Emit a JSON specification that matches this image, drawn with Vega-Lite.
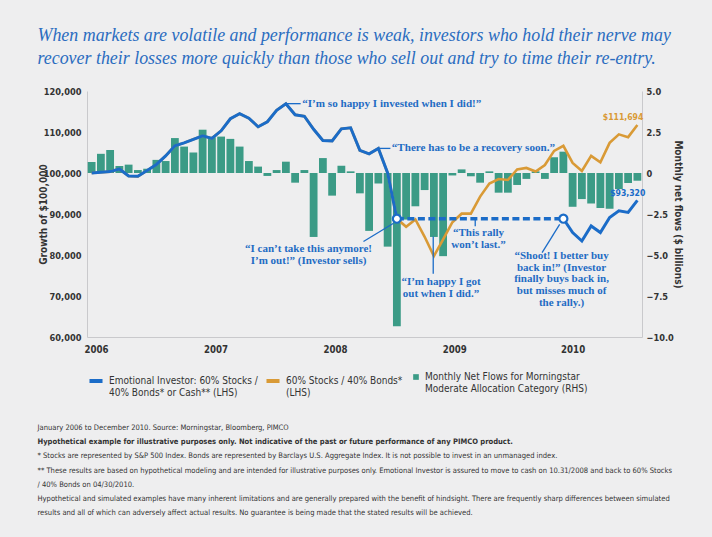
{
  "$schema": "https://vega.github.io/schema/vega-lite/v6.json",
  "background": "#eeeeef",
  "padding": {"left": 37, "top": 27, "right": 30, "bottom": 22},
  "title": {
    "text": ["When markets are volatile and performance is weak, investors who hold their nerve may", "recover their losses more quickly than those who sell out and try to time their re-entry."],
    "anchor": "start", "frame": "bounds", "font": "Liberation Serif", "fontStyle": "italic", "fontSize": 17.9, "fontWeight": "normal", "color": "#2a6cbf", "lineHeight": 23, "offset": 19, "dx": 0
  },
  "config": {
    "view": {"stroke": null},
    "font": "DejaVu Sans Condensed, Liberation Sans",
    "axis": {"grid": false, "ticks": false, "domainColor": "#c9c9cc", "labelFont": "DejaVu Sans Condensed, Liberation Sans", "labelFontWeight": "bold", "labelFontSize": 9.2, "labelColor": "#333333", "titleFont": "DejaVu Sans Condensed, Liberation Sans", "titleFontSize": 10, "titleFontWeight": "bold", "titleColor": "#333333"},
    "legend": {"orient": "bottom", "direction": "horizontal", "title": null, "labelFont": "DejaVu Sans Condensed, Liberation Sans", "labelFontSize": 10, "labelColor": "#333333", "labelLimit": 300}
  },
  "datasets": {
    "flows": [
      {"m": 0, "date": "2006-01", "flows": 0.67}, {"m": 1, "date": "2006-02", "flows": 1.17}, {"m": 2, "date": "2006-03", "flows": 1.41}, {"m": 3, "date": "2006-04", "flows": 0.43},
      {"m": 4, "date": "2006-05", "flows": 0.51}, {"m": 5, "date": "2006-06", "flows": 0.18}, {"m": 6, "date": "2006-07", "flows": 0.26}, {"m": 7, "date": "2006-08", "flows": 0.8},
      {"m": 8, "date": "2006-09", "flows": 0.73}, {"m": 9, "date": "2006-10", "flows": 2.13}, {"m": 10, "date": "2006-11", "flows": 1.61}, {"m": 11, "date": "2006-12", "flows": 1.25},
      {"m": 12, "date": "2007-01", "flows": 2.64}, {"m": 13, "date": "2007-02", "flows": 2.18}, {"m": 14, "date": "2007-03", "flows": 2.22}, {"m": 15, "date": "2007-04", "flows": 2.08},
      {"m": 16, "date": "2007-05", "flows": 1.61}, {"m": 17, "date": "2007-06", "flows": 0.73}, {"m": 18, "date": "2007-07", "flows": 0.39}, {"m": 19, "date": "2007-08", "flows": -0.18},
      {"m": 20, "date": "2007-09", "flows": 0.18}, {"m": 21, "date": "2007-10", "flows": 0.69}, {"m": 22, "date": "2007-11", "flows": -0.59}, {"m": 23, "date": "2007-12", "flows": 0.18},
      {"m": 24, "date": "2008-01", "flows": -3.9}, {"m": 25, "date": "2008-02", "flows": 0.91}, {"m": 26, "date": "2008-03", "flows": -1.38}, {"m": 27, "date": "2008-04", "flows": 0.44},
      {"m": 28, "date": "2008-05", "flows": 0.1}, {"m": 29, "date": "2008-06", "flows": -1.24}, {"m": 30, "date": "2008-07", "flows": -3.53}, {"m": 31, "date": "2008-08", "flows": -0.64},
      {"m": 32, "date": "2008-09", "flows": -4.49}, {"m": 33, "date": "2008-10", "flows": -9.34}, {"m": 34, "date": "2008-11", "flows": -2.84}, {"m": 35, "date": "2008-12", "flows": -2.03},
      {"m": 36, "date": "2009-01", "flows": -1.04}, {"m": 37, "date": "2009-02", "flows": -3.9}, {"m": 38, "date": "2009-03", "flows": -5.07}, {"m": 39, "date": "2009-04", "flows": -0.15},
      {"m": 40, "date": "2009-05", "flows": 0.22}, {"m": 41, "date": "2009-06", "flows": -0.2}, {"m": 42, "date": "2009-07", "flows": -0.59}, {"m": 43, "date": "2009-08", "flows": 0.1},
      {"m": 44, "date": "2009-09", "flows": -1.2}, {"m": 45, "date": "2009-10", "flows": -1.2}, {"m": 46, "date": "2009-11", "flows": -0.73}, {"m": 47, "date": "2009-12", "flows": -0.36},
      {"m": 48, "date": "2010-01", "flows": 0.1}, {"m": 49, "date": "2010-02", "flows": -0.36}, {"m": 50, "date": "2010-03", "flows": 0.96}, {"m": 51, "date": "2010-04", "flows": 1.3},
      {"m": 52, "date": "2010-05", "flows": -2.06}, {"m": 53, "date": "2010-06", "flows": -1.59}, {"m": 54, "date": "2010-07", "flows": -1.86}, {"m": 55, "date": "2010-08", "flows": -2.14},
      {"m": 56, "date": "2010-09", "flows": -2.18}, {"m": 57, "date": "2010-10", "flows": -0.98}, {"m": 58, "date": "2010-11", "flows": -0.61}, {"m": 59, "date": "2010-12", "flows": -0.47}
    ],
    "growth": [
      {"m": 0, "portfolio": "Emotional Investor", "phase": "before", "value": 100000}, {"m": 1, "portfolio": "Emotional Investor", "phase": "before", "value": 100170},
      {"m": 2, "portfolio": "Emotional Investor", "phase": "before", "value": 100340}, {"m": 3, "portfolio": "Emotional Investor", "phase": "before", "value": 100980},
      {"m": 4, "portfolio": "Emotional Investor", "phase": "before", "value": 99270}, {"m": 5, "portfolio": "Emotional Investor", "phase": "before", "value": 99190},
      {"m": 6, "portfolio": "Emotional Investor", "phase": "before", "value": 100610}, {"m": 7, "portfolio": "Emotional Investor", "phase": "before", "value": 102080},
      {"m": 8, "portfolio": "Emotional Investor", "phase": "before", "value": 104170}, {"m": 9, "portfolio": "Emotional Investor", "phase": "before", "value": 106620},
      {"m": 10, "portfolio": "Emotional Investor", "phase": "before", "value": 107350}, {"m": 11, "portfolio": "Emotional Investor", "phase": "before", "value": 108210},
      {"m": 12, "portfolio": "Emotional Investor", "phase": "before", "value": 109070}, {"m": 13, "portfolio": "Emotional Investor", "phase": "before", "value": 108450},
      {"m": 14, "portfolio": "Emotional Investor", "phase": "before", "value": 110290}, {"m": 15, "portfolio": "Emotional Investor", "phase": "before", "value": 113230},
      {"m": 16, "portfolio": "Emotional Investor", "phase": "before", "value": 114460}, {"m": 17, "portfolio": "Emotional Investor", "phase": "before", "value": 113350},
      {"m": 18, "portfolio": "Emotional Investor", "phase": "before", "value": 111270}, {"m": 19, "portfolio": "Emotional Investor", "phase": "before", "value": 112500},
      {"m": 20, "portfolio": "Emotional Investor", "phase": "before", "value": 115310}, {"m": 21, "portfolio": "Emotional Investor", "phase": "before", "value": 116910},
      {"m": 22, "portfolio": "Emotional Investor", "phase": "before", "value": 114210}, {"m": 23, "portfolio": "Emotional Investor", "phase": "before", "value": 113840},
      {"m": 24, "portfolio": "Emotional Investor", "phase": "before", "value": 110660}, {"m": 25, "portfolio": "Emotional Investor", "phase": "before", "value": 107910},
      {"m": 26, "portfolio": "Emotional Investor", "phase": "before", "value": 107840}, {"m": 27, "portfolio": "Emotional Investor", "phase": "before", "value": 110780},
      {"m": 28, "portfolio": "Emotional Investor", "phase": "before", "value": 111030}, {"m": 29, "portfolio": "Emotional Investor", "phase": "before", "value": 105510},
      {"m": 30, "portfolio": "Emotional Investor", "phase": "before", "value": 104660}, {"m": 31, "portfolio": "Emotional Investor", "phase": "before", "value": 106000},
      {"m": 32, "portfolio": "Emotional Investor", "phase": "before", "value": 100000}, {"m": 33, "portfolio": "Emotional Investor", "phase": "before", "value": 88850},
      {"m": 34, "portfolio": "Emotional Investor", "phase": "cash", "value": 88850}, {"m": 35, "portfolio": "Emotional Investor", "phase": "cash", "value": 88850},
      {"m": 36, "portfolio": "Emotional Investor", "phase": "cash", "value": 88850}, {"m": 37, "portfolio": "Emotional Investor", "phase": "cash", "value": 88850},
      {"m": 38, "portfolio": "Emotional Investor", "phase": "cash", "value": 88850}, {"m": 39, "portfolio": "Emotional Investor", "phase": "cash", "value": 88850},
      {"m": 40, "portfolio": "Emotional Investor", "phase": "cash", "value": 88850}, {"m": 41, "portfolio": "Emotional Investor", "phase": "cash", "value": 88850},
      {"m": 42, "portfolio": "Emotional Investor", "phase": "cash", "value": 88850}, {"m": 43, "portfolio": "Emotional Investor", "phase": "cash", "value": 88850},
      {"m": 44, "portfolio": "Emotional Investor", "phase": "cash", "value": 88850}, {"m": 45, "portfolio": "Emotional Investor", "phase": "cash", "value": 88850},
      {"m": 46, "portfolio": "Emotional Investor", "phase": "cash", "value": 88850}, {"m": 47, "portfolio": "Emotional Investor", "phase": "cash", "value": 88850},
      {"m": 48, "portfolio": "Emotional Investor", "phase": "cash", "value": 88850}, {"m": 49, "portfolio": "Emotional Investor", "phase": "cash", "value": 88850},
      {"m": 50, "portfolio": "Emotional Investor", "phase": "cash", "value": 88850}, {"m": 51, "portfolio": "Emotional Investor", "phase": "after", "value": 88850},
      {"m": 52, "portfolio": "Emotional Investor", "phase": "after", "value": 85470}, {"m": 53, "portfolio": "Emotional Investor", "phase": "after", "value": 83410},
      {"m": 54, "portfolio": "Emotional Investor", "phase": "after", "value": 87090}, {"m": 55, "portfolio": "Emotional Investor", "phase": "after", "value": 85470},
      {"m": 56, "portfolio": "Emotional Investor", "phase": "after", "value": 89150}, {"m": 57, "portfolio": "Emotional Investor", "phase": "after", "value": 90760},
      {"m": 58, "portfolio": "Emotional Investor", "phase": "after", "value": 90370}, {"m": 59, "portfolio": "Emotional Investor", "phase": "after", "value": 93320},
      {"m": 0, "portfolio": "60/40", "phase": "all", "value": 100000}, {"m": 1, "portfolio": "60/40", "phase": "all", "value": 100170},
      {"m": 2, "portfolio": "60/40", "phase": "all", "value": 100340}, {"m": 3, "portfolio": "60/40", "phase": "all", "value": 100980},
      {"m": 4, "portfolio": "60/40", "phase": "all", "value": 99270}, {"m": 5, "portfolio": "60/40", "phase": "all", "value": 99190},
      {"m": 6, "portfolio": "60/40", "phase": "all", "value": 100610}, {"m": 7, "portfolio": "60/40", "phase": "all", "value": 102080},
      {"m": 8, "portfolio": "60/40", "phase": "all", "value": 104170}, {"m": 9, "portfolio": "60/40", "phase": "all", "value": 106620},
      {"m": 10, "portfolio": "60/40", "phase": "all", "value": 107350}, {"m": 11, "portfolio": "60/40", "phase": "all", "value": 108210},
      {"m": 12, "portfolio": "60/40", "phase": "all", "value": 109070}, {"m": 13, "portfolio": "60/40", "phase": "all", "value": 108450},
      {"m": 14, "portfolio": "60/40", "phase": "all", "value": 110290}, {"m": 15, "portfolio": "60/40", "phase": "all", "value": 113230},
      {"m": 16, "portfolio": "60/40", "phase": "all", "value": 114460}, {"m": 17, "portfolio": "60/40", "phase": "all", "value": 113350},
      {"m": 18, "portfolio": "60/40", "phase": "all", "value": 111270}, {"m": 19, "portfolio": "60/40", "phase": "all", "value": 112500},
      {"m": 20, "portfolio": "60/40", "phase": "all", "value": 115310}, {"m": 21, "portfolio": "60/40", "phase": "all", "value": 116910},
      {"m": 22, "portfolio": "60/40", "phase": "all", "value": 114210}, {"m": 23, "portfolio": "60/40", "phase": "all", "value": 113840},
      {"m": 24, "portfolio": "60/40", "phase": "all", "value": 110660}, {"m": 25, "portfolio": "60/40", "phase": "all", "value": 107910},
      {"m": 26, "portfolio": "60/40", "phase": "all", "value": 107840}, {"m": 27, "portfolio": "60/40", "phase": "all", "value": 110780},
      {"m": 28, "portfolio": "60/40", "phase": "all", "value": 111030}, {"m": 29, "portfolio": "60/40", "phase": "all", "value": 105510},
      {"m": 30, "portfolio": "60/40", "phase": "all", "value": 104660}, {"m": 31, "portfolio": "60/40", "phase": "all", "value": 106000},
      {"m": 32, "portfolio": "60/40", "phase": "all", "value": 100000}, {"m": 33, "portfolio": "60/40", "phase": "all", "value": 88850},
      {"m": 34, "portfolio": "60/40", "phase": "all", "value": 86890}, {"m": 35, "portfolio": "60/40", "phase": "all", "value": 88660},
      {"m": 36, "portfolio": "60/40", "phase": "all", "value": 84440}, {"m": 37, "portfolio": "60/40", "phase": "all", "value": 79740},
      {"m": 38, "portfolio": "60/40", "phase": "all", "value": 83830}, {"m": 39, "portfolio": "60/40", "phase": "all", "value": 88000},
      {"m": 40, "portfolio": "60/40", "phase": "all", "value": 90080}, {"m": 41, "portfolio": "60/40", "phase": "all", "value": 90080},
      {"m": 42, "portfolio": "60/40", "phase": "all", "value": 94240}, {"m": 43, "portfolio": "60/40", "phase": "all", "value": 97430},
      {"m": 44, "portfolio": "60/40", "phase": "all", "value": 98530}, {"m": 45, "portfolio": "60/40", "phase": "all", "value": 98290},
      {"m": 46, "portfolio": "60/40", "phase": "all", "value": 100860}, {"m": 47, "portfolio": "60/40", "phase": "all", "value": 101230},
      {"m": 48, "portfolio": "60/40", "phase": "all", "value": 100370}, {"m": 49, "portfolio": "60/40", "phase": "all", "value": 101960},
      {"m": 50, "portfolio": "60/40", "phase": "all", "value": 105390}, {"m": 51, "portfolio": "60/40", "phase": "all", "value": 106620},
      {"m": 52, "portfolio": "60/40", "phase": "all", "value": 102450}, {"m": 53, "portfolio": "60/40", "phase": "all", "value": 100490},
      {"m": 54, "portfolio": "60/40", "phase": "all", "value": 104170}, {"m": 55, "portfolio": "60/40", "phase": "all", "value": 102620},
      {"m": 56, "portfolio": "60/40", "phase": "all", "value": 107350}, {"m": 57, "portfolio": "60/40", "phase": "all", "value": 109430},
      {"m": 58, "portfolio": "60/40", "phase": "all", "value": 108750}, {"m": 59, "portfolio": "60/40", "phase": "all", "value": 111694}
    ],
    "quotesSide": [
      {"m": 22.77, "value": 116910, "text": "“I’m so happy I invested when I did!”"},
      {"m": 32.45, "value": 106000, "text": "“There has to be a recovery soon.”"}
    ],
    "quotesBelow": [
      {"m": 23.45, "value": 82850, "text": "“I can’t take this anymore!\nI’m out!” (Investor sells)"},
      {"m": 37.77, "value": 74800, "text": "“I’m happy I got\nout when I did.”"},
      {"m": 41.83, "value": 86900, "text": "“This rally\nwon’t last.”"},
      {"m": 50.8, "value": 81260, "text": "“Shoot! I better buy\nback in!” (Investor\nfinally buys back in,\nbut misses much of\nthe rally.)"}
    ],
    "pointers": [
      {"m": 21.1, "value": 116910, "m2": 22.6, "value2": 116910},
      {"m": 31.1, "value": 106000, "m2": 32.3, "value2": 106000},
      {"m": 32.64, "value": 87750, "m2": 29.39, "value2": 83300},
      {"m": 36.93, "value": 84500, "m2": 36.93, "value2": 75400},
      {"m": 41.47, "value": 88850, "m2": 41.47, "value2": 87000},
      {"m": 50.6, "value": 87450, "m2": 48.7, "value2": 80600}
    ],
    "footnotes": [
      {"line": 1, "text": "January 2006 to December 2010. Source: Morningstar, Bloomberg, PIMCO"},
      {"line": 2, "text": "Hypothetical example for illustrative purposes only. Not indicative of the past or future performance of any PIMCO product."},
      {"line": 3, "text": "* Stocks are represented by S&P 500 Index. Bonds are represented by Barclays U.S. Aggregate Index. It is not possible to invest in an unmanaged index."},
      {"line": 4, "text": "** These results are based on hypothetical modeling and are intended for illustrative purposes only. Emotional Investor is assured to move to cash on 10.31/2008 and back to 60% Stocks"},
      {"line": 5, "text": "/ 40% Bonds on 04/30/2010."},
      {"line": 6, "text": "Hypothetical and simulated examples have many inherent limitations and are generally prepared with the benefit of hindsight. There are frequently sharp differences between simulated"},
      {"line": 7, "text": "results and all of which can adversely affect actual results. No guarantee is being made that the stated results will be achieved."}
    ]
  },
  "columns": 1,
  "align": "none",
  "spacing": 23,
  "resolve": {
    "scale": {"color": "independent", "fill": "independent"},
    "legend": {"color": "independent", "fill": "independent"}
  },
  "concat": [
    {
      "width": 555,
      "height": 246,
      "encoding": {
        "x": {"field": "m", "type": "quantitative", "scale": {"domain": [-0.5, 59.5], "nice": false, "zero": false, "padding": 0},
              "axis": {"title": null, "values": [0.48, 13.4, 26.3, 39.2, 52.0], "labelExpr": "'' + (2006 + round(datum.value / 12.88))", "labelPadding": 7, "labelFlush": false, "labelFontSize": 9.6}}
      },
      "layer": [
        {
          "data": {"name": "growth"},
          "transform": [{"filter": "false"}],
          "mark": {"type": "line"},
          "encoding": {
            "y": {"field": "value", "type": "quantitative", "scale": {"domain": [60000, 120000], "nice": false, "zero": false}, "axis": null},
            "color": {"field": "portfolio", "type": "nominal",
                      "scale": {"domain": ["Emotional Investor", "60/40"], "range": ["#1b6cc8", "#d99a36"]},
                      "legend": {"symbolType": "stroke", "symbolStrokeWidth": 4, "symbolSize": 170, "columnPadding": 0, "labelOffset": 4,
                                 "labelExpr": "datum.label == 'Emotional Investor' ? ['Emotional Investor: 60% Stocks /', '40% Bonds* or Cash** (LHS)'] : ['60% Stocks / 40% Bonds*', '(LHS)']"}}
          }
        },
        {
          "data": {"name": "flows"},
          "mark": {"type": "bar", "size": 7.8},
          "encoding": {
            "y": {"field": "flows", "type": "quantitative", "scale": {"domain": [-10, 5], "nice": false},
                  "axis": {"orient": "right", "title": "Monthly net flows ($ billions)", "values": [-10, -7.5, -5, -2.5, 0, 2.5, 5], "labelExpr": "datum.value == 0 ? '0' : format(datum.value, '.1f')", "labelPadding": 4, "titlePadding": -1}},
            "fill": {"datum": "Monthly Net Flows", "scale": {"range": ["#3b9b86"]},
                     "legend": {"symbolType": "square", "symbolSize": 32, "labelOffset": 4, "labelExpr": "['Monthly Net Flows for Morningstar', 'Moderate Allocation Category (RHS)']"}}
          }
        },
        {
          "data": {"name": "growth"},
          "encoding": {
            "y": {"field": "value", "type": "quantitative", "scale": {"domain": [60000, 120000], "nice": false, "zero": false},
                  "axis": {"orient": "left", "title": "Growth of $100,000", "values": [60000, 70000, 80000, 90000, 100000, 110000, 120000], "format": ",d", "labelPadding": 6, "titlePadding": -5.5}}
          },
          "layer": [
            {
              "transform": [{"filter": "datum.portfolio == '60/40'"}],
              "mark": {"type": "line", "strokeWidth": 2.6},
              "encoding": {"color": {"field": "portfolio", "type": "nominal"}}
            },
            {
              "transform": [{"filter": "datum.portfolio == 'Emotional Investor' && datum.phase != 'cash'"}],
              "mark": {"type": "line", "strokeWidth": 3},
              "encoding": {
                "color": {"field": "portfolio", "type": "nominal"},
                "detail": {"field": "phase"}
              }
            },
            {
              "transform": [{"filter": "datum.portfolio == 'Emotional Investor' && datum.m >= 33 && datum.m <= 51"}],
              "mark": {"type": "line", "strokeWidth": 3.5, "strokeDash": [7, 3.5], "color": "#1b6cc8"},
              "encoding": {}
            },
            {
              "transform": [{"filter": "datum.portfolio == 'Emotional Investor' && (datum.m == 33 || datum.m == 51)"}],
              "mark": {"type": "point", "filled": true, "fill": "#ffffff", "stroke": "#1b6cc8", "strokeWidth": 2.2, "size": 65, "opacity": 1},
              "encoding": {}
            },
            {
              "transform": [{"filter": "datum.m == 59 && datum.portfolio == '60/40'"}],
              "mark": {"type": "text", "align": "right", "baseline": "bottom", "dx": 6, "dy": -3, "font": "DejaVu Sans Condensed, Liberation Sans", "fontWeight": "bold", "fontSize": 8.6, "color": "#d99a36"},
              "encoding": {"text": {"field": "value", "type": "quantitative", "format": "$,d"}}
            },
            {
              "transform": [{"filter": "datum.m == 59 && datum.portfolio == 'Emotional Investor'"}],
              "mark": {"type": "text", "align": "right", "baseline": "bottom", "dx": 8, "dy": -2, "font": "DejaVu Sans Condensed, Liberation Sans", "fontWeight": "bold", "fontSize": 8.6, "color": "#1b6cc8"},
              "encoding": {"text": {"field": "value", "type": "quantitative", "format": "$,d"}}
            },
            {
              "data": {"name": "pointers"},
              "mark": {"type": "rule", "color": "#1b6cc8", "strokeWidth": 1.3},
              "encoding": {
                "x2": {"field": "m2"},
                "y2": {"field": "value2"}
              }
            },
            {
              "data": {"name": "quotesSide"},
              "mark": {"type": "text", "align": "left", "baseline": "middle", "font": "Liberation Serif", "fontWeight": "bold", "fontSize": 11.1, "color": "#1f6cc4"},
              "encoding": {"text": {"field": "text"}}
            },
            {
              "data": {"name": "quotesBelow"},
              "mark": {"type": "text", "align": "center", "baseline": "top", "lineBreak": "\n", "lineHeight": 11.8, "font": "Liberation Serif", "fontWeight": "bold", "fontSize": 11, "color": "#1f6cc4"},
              "encoding": {"text": {"field": "text"}}
            }
          ]
        }
      ],
      "resolve": {"scale": {"y": "independent"}}
    },
    {
      "width": 555,
      "height": 99,
      "data": {"name": "footnotes"},
      "encoding": {
        "x": {"value": 0},
        "y": {"field": "line", "type": "ordinal", "axis": null},
        "text": {"field": "text"}
      },
      "layer": [
        {
          "transform": [{"filter": "datum.line != 2"}],
          "mark": {"type": "text", "align": "left", "baseline": "middle", "dx": -49.5, "font": "DejaVu Sans Condensed, Liberation Sans", "fontSize": 7.56, "color": "#333333"}
        },
        {
          "transform": [{"filter": "datum.line == 2"}],
          "mark": {"type": "text", "align": "left", "baseline": "middle", "dx": -49.5, "font": "DejaVu Sans Condensed, Liberation Sans", "fontSize": 7.56, "fontWeight": "bold", "color": "#333333"}
        }
      ]
    }
  ]
}
